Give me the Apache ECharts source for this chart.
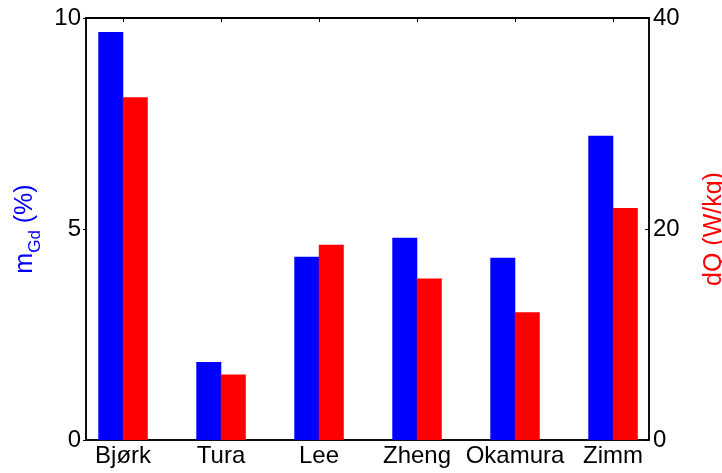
<!DOCTYPE html>
<html>
<head>
<meta charset="utf-8">
<script src="https://cdn.jsdelivr.net/npm/echarts@6/dist/echarts.min.js"></script>
<style>html,body{margin:0;padding:0;background:#fff}#c{width:722px;height:473px}</style>
</head>
<body>
<div id="c"></div>
<script>
const categories = ['Bjørk', 'Tura', 'Lee', 'Zheng', 'Okamura', 'Zimm'];
const mGd = [9.67, 1.85, 4.34, 4.79, 4.32, 7.21];
const dQ = [32.5, 6.2, 18.5, 15.3, 12.1, 22.0];
const leftTicks = [0, 5, 10];
const rightTicks = [0, 20, 40];

const positions = categories.map((c, i) => i + 1);
const font = 'Liberation Sans, Arial, Helvetica, sans-serif';

const chart = echarts.init(document.getElementById('c'), null, {renderer: 'canvas'});
chart.setOption({
  animation: false,
  backgroundColor: '#fff',
  grid: {left: 86, right: 73, top: 18, bottom: 33, containLabel: false, outerBoundsMode: 'none',
    show: true, borderColor: '#000', borderWidth: 1.5, backgroundColor: 'transparent'},
  xAxis: [
    {type: 'value', min: 0.622, max: 6.367, position: 'bottom',
      axisLine: {show: true, onZero: false, lineStyle: {color: '#000', width: 1.5}},
      splitLine: {show: false},
      axisTick: {show: true, inside: true, length: 4, customValues: positions, lineStyle: {color: '#000'}},
      axisLabel: {show: true, customValues: positions, color: '#000', fontFamily: font, fontSize: 24, margin: 4,
        formatter: v => categories[Math.round(v) - 1] || ''}
    },
    {type: 'value', min: 0.622, max: 6.367, position: 'top',
      axisLine: {show: true, onZero: false, lineStyle: {color: '#000', width: 2}},
      splitLine: {show: false},
      axisTick: {show: true, inside: true, length: 4, customValues: positions, lineStyle: {color: '#000'}},
      axisLabel: {show: false}
    }
  ],
  yAxis: [
    {
      type: 'value', min: 0, max: 10, position: 'left',
      name: '{m|m}{s|Gd}{m| (%)}', nameLocation: 'middle', nameGap: 47, nameRotate: 90,
      nameTextStyle: {rich: {
        m: {color: '#0000ff', fontFamily: font, fontSize: 25, lineHeight: 30, verticalAlign: 'bottom'},
        s: {color: '#0000ff', fontFamily: font, fontSize: 17, lineHeight: 30, verticalAlign: 'bottom', padding: [0,0,-6,0]}
      }},
      axisLine: {show: true, onZero: false, lineStyle: {color: '#000', width: 1.5}},
      axisTick: {show: true, inside: false, length: 3, customValues: leftTicks, lineStyle: {color: '#000'}},
      axisLabel: {customValues: leftTicks, color: '#000', fontFamily: font, fontSize: 24, margin: 5},
      splitLine: {show: false}
    },
    {
      type: 'value', min: 0, max: 40, position: 'right',
      name: 'dQ (W/kg)', nameLocation: 'middle', nameGap: 53, nameRotate: 90,
      nameTextStyle: {color: '#ff0000', fontFamily: font, fontSize: 25},
      axisLine: {show: true, onZero: false, lineStyle: {color: '#000', width: 1.5}},
      axisTick: {show: true, inside: true, length: 4, customValues: rightTicks, lineStyle: {color: '#000'}},
      axisLabel: {customValues: rightTicks, color: '#000', fontFamily: font, fontSize: 24, margin: 4},
      splitLine: {show: false}
    }
  ],
  series: [
    {name: 'mGd', type: 'bar', xAxisIndex: 0, yAxisIndex: 0, barWidth: 25, barGap: '-2%',
      itemStyle: {color: '#0000ff'}, data: positions.map((p, i) => [p, mGd[i]])},
    {name: 'dQ', type: 'bar', xAxisIndex: 0, yAxisIndex: 1, barWidth: 25, barGap: '-2%',
      itemStyle: {color: '#ff0000'}, data: positions.map((p, i) => [p, dQ[i]])},
    {name: 'frame', type: 'line', xAxisIndex: 1, yAxisIndex: 0, data: [], silent: true, showSymbol: false}
  ]
});
</script>
</body>
</html>
